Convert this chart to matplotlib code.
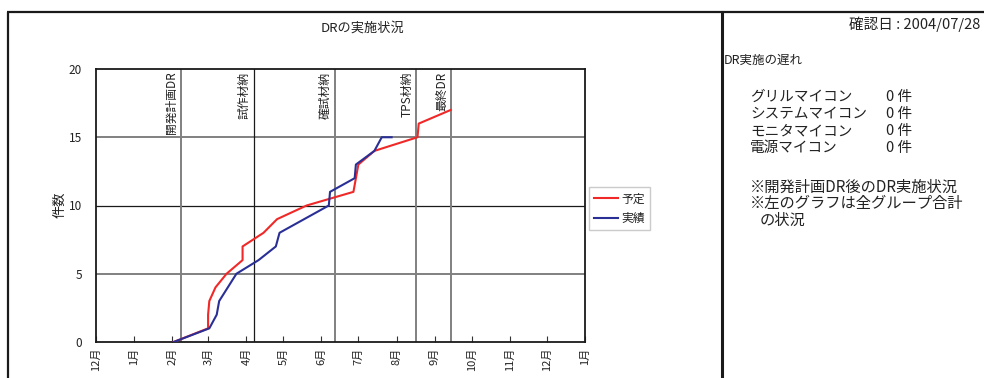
import datetime as dt
import matplotlib
matplotlib.use("Agg")
import matplotlib.pyplot as plt
from matplotlib.lines import Line2D

plt.rcParams['font.family'] = ['Noto Sans CJK JP', 'DejaVu Sans']

# ---- data -------------------------------------------------------------
title = "DRの実施状況"
y_label = "件数"
series_names = ["予定", "実績"]

plan_dates = ["2004-02-02", "2004-03-01", "2004-03-01", "2004-03-02", "2004-03-07",
              "2004-03-16", "2004-03-29", "2004-03-29", "2004-04-15", "2004-04-26",
              "2004-05-20", "2004-06-27", "2004-07-01", "2004-07-14", "2004-08-18",
              "2004-08-19", "2004-09-14"]
plan_counts = [0, 1, 2, 3, 4, 5, 6, 7, 8, 9, 10, 11, 13, 14, 15, 16, 17]

actual_dates = ["2004-02-02", "2004-03-02", "2004-03-08", "2004-03-10", "2004-03-17",
                "2004-03-24", "2004-04-11", "2004-04-25", "2004-04-28", "2004-06-07",
                "2004-06-08", "2004-06-28", "2004-06-29", "2004-07-14", "2004-07-20",
                "2004-07-28"]
actual_counts = [0, 1, 2, 3, 4, 5, 6, 7, 8, 10, 11, 12, 13, 14, 15, 15]

milestone_names = ["開発計画DR", "試作材納", "確試材納", "TPS材納", "最終DR"]
milestone_dates = ["2004-02-08", "2004-04-07", "2004-06-12", "2004-08-17", "2004-09-14"]

month_starts = ["2003-12-01", "2004-01-01", "2004-02-01", "2004-03-01", "2004-04-01",
                "2004-05-01", "2004-06-01", "2004-07-01", "2004-08-01", "2004-09-01",
                "2004-10-01", "2004-11-01", "2004-12-01", "2005-01-01"]
month_labels = ["12月", "1月", "2月", "3月", "4月", "5月", "6月", "7月", "8月",
                "9月", "10月", "11月", "12月", "1月"]

y_ticks = [0, 5, 10, 15, 20]

check_date = "確認日 : 2004/07/28"
delay_heading = "DR実施の遅れ"
group_names = ["グリルマイコン", "システムマイコン", "モニタマイコン", "電源マイコン"]
group_delays = ["0 件", "0 件", "0 件", "0 件"]
notes = ["※開発計画DR後のDR実施状況", "※左のグラフは全グループ合計", "の状況"]


def to_dates(seq):
    return [dt.datetime.strptime(s, "%Y-%m-%d") for s in seq]


# ---- figure -----------------------------------------------------------
W, H = 984, 378
fig = plt.figure(figsize=(W / 100, H / 100), dpi=100)
fig.patch.set_facecolor("white")
TXT = "#222222"


def fx(px):
    return px / W


def fy(py):
    return 1 - py / H


# outer frame and panel separator
frame_kw = dict(color="#1a1a1a", lw=1.6, transform=fig.transFigure, solid_capstyle="butt")
fig.add_artist(Line2D([fx(8), fx(8)], [fy(12), fy(H + 5)], **frame_kw))
fig.add_artist(Line2D([fx(7), fx(W + 5)], [fy(12), fy(12)], **frame_kw))
fig.add_artist(Line2D([fx(722), fx(722)], [fy(12), fy(H + 5)], color="#1a1a1a", lw=2.2,
                      transform=fig.transFigure))

# ---- chart ------------------------------------------------------------
ax = fig.add_axes([fx(96), fy(342), fx(585) - fx(96), fy(69) - fy(342)])
ax.set_xlim(to_dates(month_starts)[0], to_dates(month_starts)[-1])
ax.set_ylim(0, 20)

ax.set_yticks(y_ticks)
ax.set_yticklabels([str(v) for v in y_ticks], fontsize=8.5, color=TXT)
ax.tick_params(axis="y", length=0, pad=10)

ax.set_xticks(to_dates(month_starts))
ax.set_xticklabels(month_labels, rotation=90, fontsize=8, color=TXT)
ax.tick_params(axis="x", direction="in", length=4, width=0.8, color="#333333", pad=4)

for sp in ax.spines.values():
    sp.set_color("#1a1a1a")
    sp.set_linewidth(1.3)

# horizontal grid
for v in [5, 10, 15]:
    if v == 10:
        ax.axhline(v, color="#1a1a1a", lw=0.9, zorder=1)
    else:
        ax.axhline(v, color="#808080", lw=1.4, zorder=1)

# milestone lines with labels
for name, d in zip(milestone_names, to_dates(milestone_dates)):
    dark = name == "試作材納"
    ax.axvline(d, color="#1a1a1a" if dark else "#808080", lw=0.9 if dark else 1.4, zorder=1)
    ax.annotate(name, xy=(d, 20), xytext=(-2, -2), textcoords="offset points",
                rotation=90, ha="right", va="top", fontsize=8.5, color=TXT)

ax.plot(to_dates(plan_dates), plan_counts, color="#f02828", lw=1.5, label=series_names[0], zorder=3)
ax.plot(to_dates(actual_dates), actual_counts, color="#2a2f96", lw=1.5, label=series_names[1], zorder=3)

fig.text(fx(60), fy(205), y_label, rotation=90, ha="center", va="center", fontsize=9.5, color=TXT)
fig.text(fx(363), fy(28), title, ha="center", va="center", fontsize=9.5, color=TXT)

leg = ax.legend(loc="upper left", bbox_to_anchor=(fx(589), fy(187)), bbox_transform=fig.transFigure,
                fontsize=8.5, frameon=True, fancybox=False, borderaxespad=0,
                handlelength=2.0, handletextpad=0.3, labelspacing=0.55, borderpad=0.45)
leg.get_frame().set_edgecolor("#bfbfbf")
leg.get_frame().set_linewidth(1.0)
for t in leg.get_texts():
    t.set_color(TXT)

# ---- side panel -------------------------------------------------------
fig.text(fx(980), fy(24), check_date, ha="right", va="center", fontsize=10.5, color=TXT)
fig.text(fx(724), fy(60), delay_heading, ha="left", va="center", fontsize=9, color=TXT)
row_y = [97, 114, 131, 148]
for name, val, yy in zip(group_names, group_delays, row_y):
    fig.text(fx(750), fy(yy), name, ha="left", va="center", fontsize=10.5, color=TXT)
    fig.text(fx(886), fy(yy), val, ha="left", va="center", fontsize=10.5, color=TXT)
for txt, xx, yy in zip(notes, [750, 750, 760], [187, 203, 220]):
    fig.text(fx(xx), fy(yy), txt, ha="left", va="center", fontsize=11, color=TXT)

fig.savefig("out.png", dpi=100, facecolor="white")
